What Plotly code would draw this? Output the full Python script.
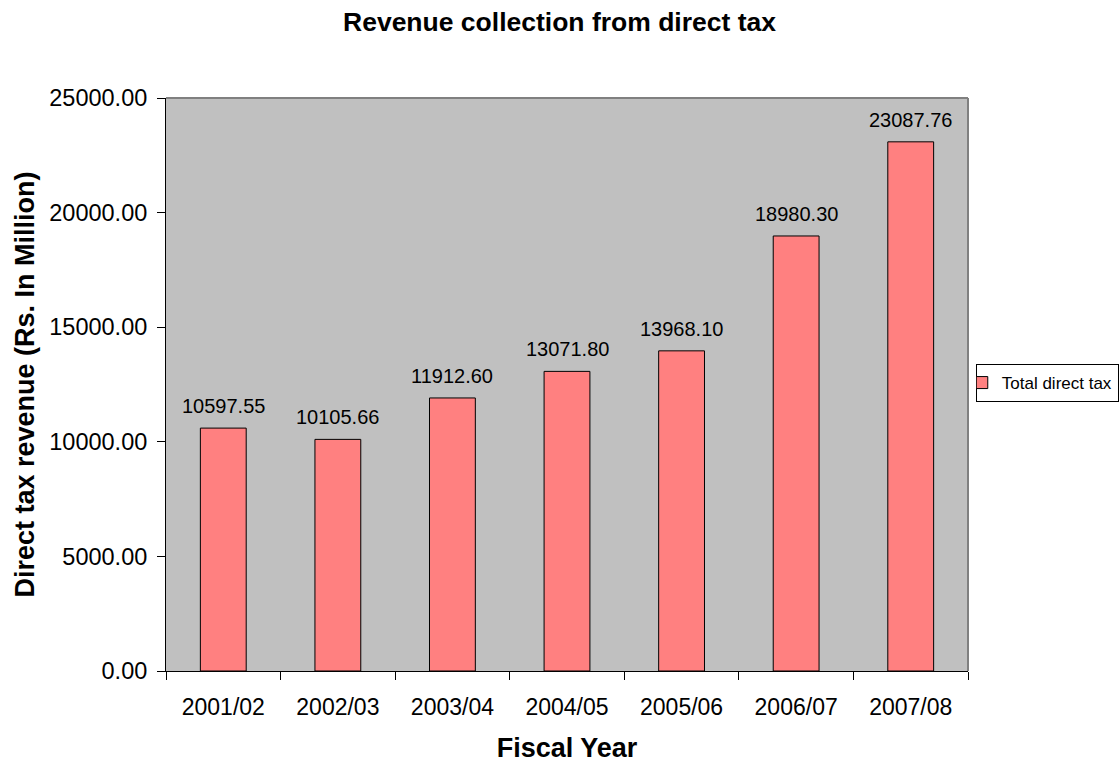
import plotly.graph_objects as go

years = ["2001/02", "2002/03", "2003/04", "2004/05", "2005/06", "2006/07", "2007/08"]
direct_tax = [10597.55, 10105.66, 11912.60, 13071.80, 13968.10, 18980.30, 23087.76]

FONT = "Liberation Sans, Arial, sans-serif"

fig = go.Figure()
fig.add_trace(go.Bar(
    x=years,
    y=direct_tax,
    name="Total direct tax",
    marker=dict(color="#FF8080", line=dict(color="black", width=1)),
))

# value labels above each bar
value_labels = [
    dict(x=yr, y=v, text=f"{v:.2f}", showarrow=False,
         xref="x", yref="y", yanchor="bottom", yshift=9,
         font=dict(family=FONT, size=20, color="black"))
    for yr, v in zip(years, direct_tax)
]

fig.update_layout(
    width=1119,
    height=763,
    margin=dict(l=166, r=151, t=98, b=92),
    paper_bgcolor="white",
    plot_bgcolor="#C0C0C0",
    bargap=0.6,
    showlegend=True,
    font=dict(family=FONT, color="black"),
    title=dict(
        text="<b>Revenue collection from direct tax</b>",
        font=dict(family=FONT, size=26.5, color="black"),
        x=0.5, xanchor="center", xref="container",
        y=0.971, yanchor="middle",
    ),
    legend=dict(
        xref="container", yref="container",
        x=0.872, xanchor="left",
        y=0.498, yanchor="middle",
        bordercolor="black", borderwidth=1,
        bgcolor="white",
        font=dict(family=FONT, size=17, color="black"),
        itemwidth=30,
        indentation=-15,
    ),
    xaxis=dict(
        title=dict(text="<b>Fiscal Year</b>", font=dict(family=FONT, size=27), standoff=22),
        tickfont=dict(family=FONT, size=23),
        showline=True, linecolor="black", linewidth=1,
        ticks="outside", ticklen=8, tickcolor="black",
        tickson="boundaries",
        ticklabelstandoff=15,
        showgrid=False,
        automargin=False,
    ),
    yaxis=dict(
        title=dict(text="<b>Direct tax revenue (Rs. In Million)</b>", font=dict(family=FONT, size=27), standoff=6),
        tickfont=dict(family=FONT, size=23.5),
        range=[0, 25000],
        dtick=5000,
        tickformat=".2f",
        showline=True, linecolor="black", linewidth=1,
        ticks="outside", ticklen=8, tickcolor="black",
        ticklabelstandoff=5,
        showgrid=False,
        zeroline=False,
        automargin=False,
    ),
    annotations=value_labels,
    shapes=[
        dict(type="line", xref="paper", yref="paper", x0=0, x1=1, y0=1, y1=1,
             line=dict(color="#808080", width=2)),
        dict(type="line", xref="paper", yref="paper", x0=1, x1=1, y0=0, y1=1,
             line=dict(color="#808080", width=2)),
    ],
)

fig.write_html("out.html")
